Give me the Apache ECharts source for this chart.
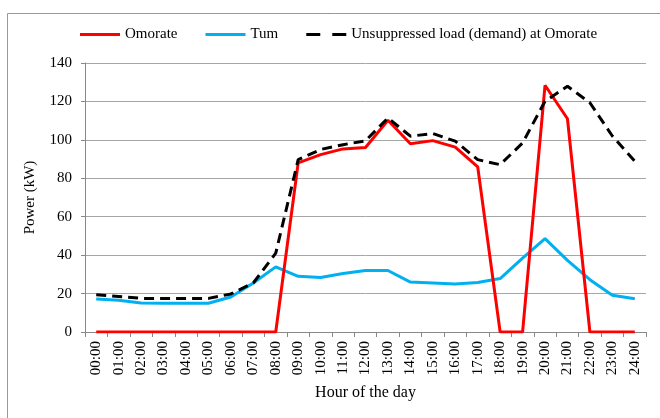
<!DOCTYPE html>
<html>
<head>
<meta charset="utf-8">
<script src="https://cdn.jsdelivr.net/npm/echarts@6/dist/echarts.min.js"></script>
<style>
  html, body { margin: 0; padding: 0; background: #fff; }
  #chart { width: 660px; height: 418px; }
</style>
</head>
<body>
<div id="chart"></div>
<script>
  var hours = ['00:00','01:00','02:00','03:00','04:00','05:00','06:00','07:00','08:00','09:00','10:00','11:00','12:00',
               '13:00','14:00','15:00','16:00','17:00','18:00','19:00','20:00','21:00','22:00','23:00','24:00'];
  var omorate = [0,0,0,0,0,0,0,0,0,88,92.3,95.3,96,110.2,98,99.6,96.2,86,0,0,128.4,111,0,0,0];
  var tum = [17.2,16.5,15.1,15,15,15,18.2,25.5,33.9,29,28.4,30.4,32,32,26,25.5,25,25.8,27.8,38.5,48.6,37.3,27.2,19.1,17.3];
  var demand = [19.4,18.5,17.5,17.5,17.5,17.5,19.8,25.5,41,89.7,95,97.5,99.5,111.4,101.9,103.3,99.3,89.7,87.1,98.4,120.1,127.9,119.3,102,88.9];
  var yTicks = [0, 20, 40, 60, 80, 100, 120, 140];

  var myChart = echarts.init(document.getElementById('chart'));
  var serif = 'Liberation Serif, Times New Roman, serif';
  var solidIcon = 'path://M0,0H40V3H0Z';
  var dashIcon = 'path://M0,0H14V3H0ZM26,0H40V3H26Z';

  myChart.setOption({
    animation: false,
    textStyle: { fontFamily: serif },
    graphic: [{
      type: 'rect',
      shape: { x: 7.5, y: 13.5, width: 700, height: 500 },
      style: { fill: 'none', stroke: '#999', lineWidth: 1 }
    }],
    legend: {
      top: 22,
      left: 75,
      itemWidth: 40,
      itemHeight: 3,
      itemGap: 28,
      textStyle: { fontFamily: serif, fontSize: 15, color: '#000' },
      data: [
        { name: 'Omorate', icon: solidIcon },
        { name: 'Tum', icon: solidIcon },
        { name: 'Unsuppressed load (demand) at Omorate', icon: dashIcon }
      ]
    },
    grid: { left: 85, right: 14, top: 63, bottom: 86 },
    xAxis: {
      type: 'category',
      data: hours,
      boundaryGap: true,
      name: 'Hour of the day',
      nameLocation: 'middle',
      nameGap: 53,
      nameTextStyle: { fontFamily: serif, fontSize: 16, color: '#000' },
      axisLine: { lineStyle: { color: '#888' } },
      axisTick: { show: true, interval: 0, length: 5, lineStyle: { color: '#888' } },
      axisLabel: { interval: 0, rotate: 90, fontFamily: serif, fontSize: 15, color: '#000', margin: 9 }
    },
    yAxis: {
      type: 'value',
      min: yTicks[0],
      max: yTicks[yTicks.length - 1],
      interval: 20,
      name: 'Power (kW)',
      nameLocation: 'middle',
      nameGap: 47,
      nameTextStyle: { fontFamily: serif, fontSize: 15, color: '#000' },
      axisLine: { show: true, lineStyle: { color: '#888' } },
      axisTick: { show: true, length: 4, lineStyle: { color: '#888' } },
      axisLabel: { fontFamily: serif, fontSize: 15, color: '#000', margin: 13 },
      splitLine: { lineStyle: { color: '#a6a6a6' } }
    },
    series: [
      {
        name: 'Omorate',
        type: 'line',
        data: omorate,
        symbol: 'none',
        z: 3,
        itemStyle: { color: '#ff0000' },
        lineStyle: { color: '#ff0000', width: 3 }
      },
      {
        name: 'Tum',
        type: 'line',
        data: tum,
        symbol: 'none',
        z: 2,
        itemStyle: { color: '#00b0f0' },
        lineStyle: { color: '#00b0f0', width: 3 }
      },
      {
        name: 'Unsuppressed load (demand) at Omorate',
        type: 'line',
        data: demand,
        symbol: 'none',
        z: 4,
        itemStyle: { color: '#000' },
        lineStyle: { color: '#000', width: 3, type: [10, 6] }
      }
    ]
  });
</script>
</body>
</html>
